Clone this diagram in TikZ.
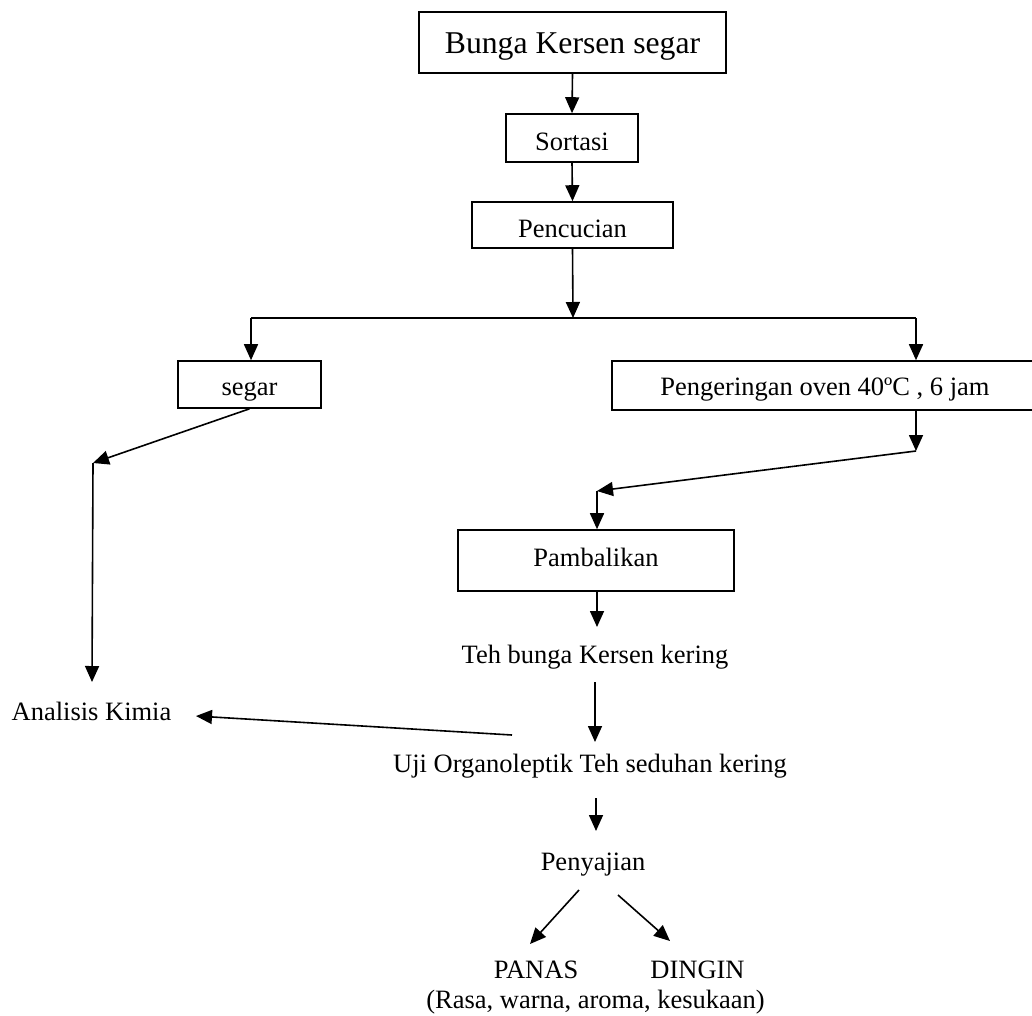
\documentclass[tikz,border=0pt]{standalone}
\usepackage{fontspec}
\setmainfont{Liberation Serif}
\usetikzlibrary{arrows.meta}
\begin{document}
\begin{tikzpicture}[x=1pt,y=-1pt,
  box/.style={draw,line width=1.6pt,inner sep=0pt,text depth=0pt,font=\fontsize{26.5}{30}\selectfont},
  txt/.style={inner sep=0pt,anchor=base,font=\fontsize{26.5}{30}\selectfont},
  con/.style={line width=1.6pt},
  arr/.style={line width=1.6pt,-{Triangle[length=16pt,width=14pt]}}]
\useasboundingbox (0,0) rectangle (1032,1015);
% boxes
\node[box,minimum width=307pt,minimum height=61pt,text height=21pt,font=\fontsize{31.7}{36}\selectfont] (b1) at (572.5,42.5) {Bunga Kersen segar};
\node[box,minimum width=132pt,minimum height=48pt,text height=24pt] (sort) at (572,138) {Sortasi};
\node[box,minimum width=201pt,minimum height=46pt,text height=24pt] (penc) at (572.5,225) {Pencucian};
\node[box,minimum width=143pt,minimum height=47pt,text height=21pt] (segar) at (249.5,384.5) {segar};
\node[box,minimum width=426pt,minimum height=49pt,text height=19pt] (peng) at (825,385.5) {Pengeringan oven 40ºC , 6 jam};
\node[box,minimum width=276pt,minimum height=61pt,text height=11pt] (pamb) at (596,560.5) {Pambalikan};
% texts
\node[txt] (teh) at (595,663) {Teh bunga Kersen kering};
\node[txt] (uji) at (590,772) {Uji Organoleptik Teh seduhan kering};
\node[txt] (anal) at (91.5,720) {Analisis Kimia};
\node[txt] (peny) at (593,870) {Penyajian};
\node[txt] (panas) at (536,978) {PANAS};
\node[txt] (dingin) at (697.5,978) {DINGIN};
\node[txt] (rasa) at (595.5,1008) {(Rasa, warna, aroma, kesukaan)};
% coordinates
\coordinate (j) at (573,318);
\coordinate (jl) at (251,318);
\coordinate (jr) at (916,318);
\coordinate (a1) at (93,463);
\coordinate (a2) at (92,682);
\coordinate (p1) at (916,451);
\coordinate (p2) at (597,491);
\coordinate (t1) at (597,627);
\coordinate (t2) at (595,682);
\coordinate (t3) at (595,742);
\coordinate (k1) at (512,735);
\coordinate (k2) at (196,716);
\coordinate (u1) at (596,798);
\coordinate (u2) at (596,831);
\coordinate (d1) at (579,890);
\coordinate (d2) at (530,944);
\coordinate (e1) at (618,895);
\coordinate (e2) at (670,941);
% connectors
\draw[arr] (b1.south) -- (sort.north);
\draw[arr] (sort.south) -- (penc.north);
\draw[arr] (penc.south) -- (j);
\draw[con] (jl) -- (jr);
\draw[arr] (jl) -- (jl |- segar.north);
\draw[arr] (jr) -- (jr |- peng.north);
\draw[arr] (segar.south) -- (a1);
\draw[arr] (a1) -- (a2);
\draw[arr] (peng.south -| p1) -- (p1);
\draw[arr] (p1) -- (p2);
\draw[arr] (p2) -- (p2 |- pamb.north);
\draw[arr] (pamb.south -| t1) -- (t1);
\draw[arr] (t2) -- (t3);
\draw[arr] (k1) -- (k2);
\draw[arr] (u1) -- (u2);
\draw[arr] (d1) -- (d2);
\draw[arr] (e1) -- (e2);
\end{tikzpicture}
\end{document}
